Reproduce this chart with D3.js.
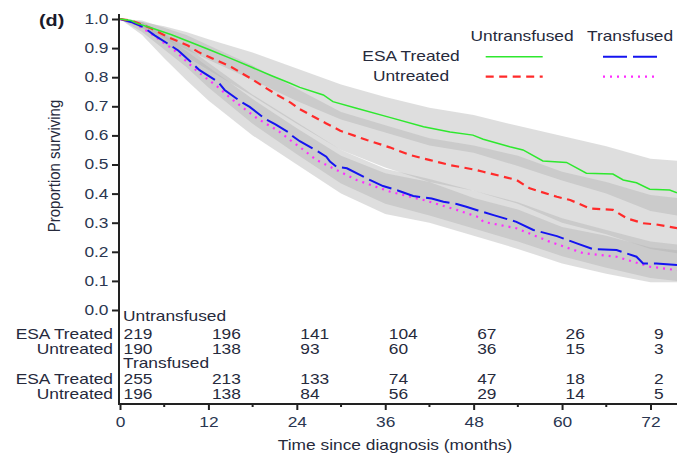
<!DOCTYPE html>
<html>
<head>
<meta charset="utf-8">
<script src="https://cdn.jsdelivr.net/npm/d3@7"></script>
<style>
  html, body { margin: 0; padding: 0; background: #fff; }
  svg { display: block; }
  text { font-family: "Liberation Sans", Arial, sans-serif; }
</style>
</head>
<body>
<svg id="chart" width="677" height="454"></svg>
<script>
// Kaplan-Meier survival estimates, [months, proportion surviving]
const untransfusedEsa = [[0,1],[1.5,0.995],[2.4,0.984],[4.3,0.969],[7,0.946],[10.1,0.915],[12.4,0.892],[15.1,0.864],[17.8,0.835],[20.5,0.806],[23.1,0.779],[24.4,0.765],[27.6,0.739],[28.9,0.716],[32.1,0.693],[36.6,0.662],[41.2,0.630],[44.8,0.612],[47.9,0.601],[49.3,0.587],[52.9,0.561],[54.7,0.550],[57.4,0.512],[60.6,0.507],[63.3,0.470],[66.9,0.467],[68.3,0.447],[70.1,0.437],[71.9,0.415],[74.6,0.412],[75.6,0.403]];
const untransfusedUntreated = [[0,1],[1.5,0.995],[2.5,0.985],[4.2,0.968],[6.5,0.938],[9.2,0.909],[10.6,0.887],[12.4,0.866],[15.1,0.835],[17.8,0.795],[19.6,0.766],[21.4,0.738],[23.2,0.712],[24.4,0.690],[28,0.641],[29.9,0.616],[33.5,0.584],[36.6,0.559],[39.3,0.533],[42.1,0.515],[44.8,0.498],[48.4,0.481],[49.3,0.475],[53.8,0.447],[55.6,0.418],[59.3,0.389],[61.1,0.378],[63.8,0.349],[66.9,0.344],[68.8,0.315],[71,0.298],[72.8,0.294],[75.6,0.281]];
const transfusedEsa = [[0,1],[1.5,0.99],[3.1,0.973],[4.7,0.944],[6.5,0.915],[7.9,0.892],[10.1,0.841],[10.8,0.824],[13.3,0.784],[14.2,0.756],[16.4,0.716],[17.6,0.698],[19.7,0.657],[21.1,0.638],[22.8,0.612],[23.5,0.596],[24.4,0.580],[26.9,0.544],[28,0.527],[28.5,0.510],[29.4,0.492],[30.8,0.487],[33.9,0.447],[35.7,0.426],[37.8,0.410],[39.8,0.392],[42.3,0.383],[43.9,0.372],[45.7,0.364],[47,0.355],[48.6,0.342],[50.7,0.326],[53.8,0.303],[56.1,0.275],[59.3,0.254],[62,0.229],[64.2,0.209],[67.4,0.206],[70.1,0.183],[71,0.160],[72.8,0.160],[75.6,0.155]];
const transfusedUntreated = [[0,1],[2,0.985],[4.2,0.95],[7.4,0.892],[10.6,0.818],[13.3,0.766],[15.1,0.726],[18.7,0.657],[21.4,0.617],[23.1,0.584],[24.4,0.560],[26.7,0.515],[32.1,0.447],[36.6,0.407],[41.2,0.378],[45.7,0.344],[48.8,0.318],[49.3,0.303],[53.8,0.281],[58.3,0.235],[62.9,0.195],[67.4,0.183],[71.9,0.149],[75.6,0.137]];

// Pointwise confidence limits, sampled on a common month grid
const bandMonths = [0, 3, 6, 9, 12, 18, 24, 30, 36, 42, 48, 54, 60, 66, 72, 75.6];
const untransfusedEsaHi = [1, 0.99, 0.975, 0.955, 0.93, 0.885, 0.83, 0.775, 0.732, 0.695, 0.67, 0.633, 0.598, 0.563, 0.52, 0.513];
const untransfusedEsaLo = [1, 0.968, 0.935, 0.895, 0.86, 0.79, 0.718, 0.655, 0.61, 0.565, 0.54, 0.495, 0.445, 0.4, 0.34, 0.325];
const untransfusedUntreatedHi = [1, 0.995, 0.97, 0.945, 0.91, 0.84, 0.76, 0.68, 0.635, 0.59, 0.565, 0.53, 0.475, 0.44, 0.395, 0.385];
const untransfusedUntreatedLo = [1, 0.97, 0.915, 0.87, 0.825, 0.735, 0.64, 0.55, 0.49, 0.44, 0.41, 0.365, 0.30, 0.26, 0.21, 0.195];
const transfusedEsaHi = [1, 0.99, 0.95, 0.905, 0.85, 0.74, 0.645, 0.55, 0.485, 0.45, 0.41, 0.37, 0.315, 0.275, 0.235, 0.225];
const transfusedEsaLo = [1, 0.955, 0.895, 0.835, 0.765, 0.64, 0.535, 0.435, 0.365, 0.325, 0.28, 0.235, 0.185, 0.145, 0.11, 0.10];
const transfusedUntreatedHi = [1, 0.99, 0.945, 0.89, 0.835, 0.725, 0.625, 0.53, 0.47, 0.44, 0.385, 0.345, 0.285, 0.255, 0.215, 0.205];
const transfusedUntreatedLo = [1, 0.945, 0.865, 0.79, 0.72, 0.60, 0.50, 0.40, 0.33, 0.30, 0.255, 0.21, 0.16, 0.125, 0.095, 0.095];

// Numbers at risk
const riskMonths = [0, 12, 24, 36, 48, 60, 72];
const riskUntransfusedEsa = [219, 196, 141, 104, 67, 26, 9];
const riskUntransfusedUntreated = [190, 138, 93, 60, 36, 15, 3];
const riskTransfusedEsa = [255, 213, 133, 74, 47, 18, 2];
const riskTransfusedUntreated = [196, 138, 84, 56, 29, 14, 5];

// Axis ticks
const xMajorTicks = [0, 12, 24, 36, 48, 60, 72];
const xMinorTicks = [6, 18, 30, 42, 54, 66];
const yTicks = [0, 0.1, 0.2, 0.3, 0.4, 0.5, 0.6, 0.7, 0.8, 0.9, 1.0];

const SX = 1.24;            // horizontal stretch of the lettering
const INK = "#262a3c";
const TICK_INK = "#2a3650";

const svg = d3.select("#chart");
const x = d3.scaleLinear().domain([0, 75.6]).range([120, 677]);
const y = d3.scaleLinear().domain([0, 1]).range([310, 19]);

function label(g, px, py, str, anchor, size, color, weight) {
  return g.append("text")
    .attr("transform", `translate(${px},${py}) scale(${SX},1)`)
    .attr("text-anchor", anchor || "start")
    .attr("font-size", size || 14)
    .attr("font-weight", weight || "normal")
    .attr("fill", color || INK)
    .text(str);
}

// Confidence bands (translucent grey, darker where they overlap)
const bands = [
  [untransfusedEsaLo, untransfusedEsaHi],
  [untransfusedUntreatedLo, untransfusedUntreatedHi],
  [transfusedEsaLo, transfusedEsaHi],
  [transfusedUntreatedLo, transfusedUntreatedHi]
];
const bandArea = d3.area()
  .x(d => x(d.t)).y0(d => y(d.lo)).y1(d => y(d.hi))
  .curve(d3.curveLinear);
const bandLayer = svg.append("g");
bands.forEach(([lo, hi]) => {
  const rows = bandMonths.map((t, i) => ({ t, lo: lo[i], hi: hi[i] }));
  bandLayer.append("path")
    .attr("d", bandArea(rows))
    .attr("fill", "#b0b0b0")
    .attr("fill-opacity", 0.42);
});

// Survival curves
const series = [
  { data: transfusedUntreated, color: "#ff2cff", dash: "2,5", width: 2.2 },
  { data: transfusedEsa, color: "#1414f0", dash: "24,6", width: 2 },
  { data: untransfusedUntreated, color: "#ff2a2a", dash: "8,5.5", width: 2.2 },
  { data: untransfusedEsa, color: "#2ee82e", dash: null, width: 1.5 }
];
const line = d3.line().x(d => x(d[0])).y(d => y(d[1])).curve(d3.curveLinear);
const curveLayer = svg.append("g");
series.forEach(s => {
  curveLayer.append("path")
    .attr("d", line(s.data))
    .attr("fill", "none")
    .attr("stroke", s.color)
    .attr("stroke-width", s.width)
    .attr("stroke-dasharray", s.dash);
});

// Y axis
const yAxis = svg.append("g")
  .attr("transform", "translate(119,0)")
  .call(d3.axisLeft(y).tickValues(yTicks).tickFormat(d3.format(".1f")).tickSize(7).tickPadding(3.5));
yAxis.select(".domain").remove();
yAxis.selectAll(".tick line").attr("stroke", "#222").attr("stroke-width", 2);
yAxis.selectAll(".tick text")
  .attr("font-size", 14).attr("fill", TICK_INK)
  .attr("font-family", "Liberation Sans, Arial, sans-serif")
  .each(function () {
    const t = d3.select(this);
    const px = +t.attr("x") || 0;
    t.attr("x", 0).attr("transform", `translate(${px},0) scale(${SX},1)`);
  });
svg.append("line")
  .attr("x1", 119).attr("x2", 119).attr("y1", 14).attr("y2", 405)
  .attr("stroke", "#222").attr("stroke-width", 2);

// X axis
const xAxis = svg.append("g")
  .attr("transform", "translate(0,404)")
  .call(d3.axisBottom(x).tickValues(xMajorTicks).tickFormat(d3.format("d")).tickSize(6).tickPadding(8));
xAxis.select(".domain").remove();
xAxis.selectAll(".tick line").attr("stroke", "#222").attr("stroke-width", 2);
xAxis.selectAll(".tick text")
  .attr("font-size", 14).attr("fill", TICK_INK)
  .attr("font-family", "Liberation Sans, Arial, sans-serif")
  .attr("dy", null).attr("y", 0)
  .each(function () {
    d3.select(this).attr("transform", `translate(0,23.3) scale(${SX},1)`);
  });
xAxis.selectAll(".minor")
  .data(xMinorTicks).enter().append("line")
  .attr("x1", d => x(d)).attr("x2", d => x(d))
  .attr("y1", 0).attr("y2", 3)
  .attr("stroke", "#222").attr("stroke-width", 2);
svg.append("line")
  .attr("x1", 118).attr("x2", 677).attr("y1", 404).attr("y2", 404)
  .attr("stroke", "#222").attr("stroke-width", 2);

// Axis titles and panel letter
label(svg, 395, 449.5, "Time since diagnosis (months)", "middle", 14);
svg.append("text")
  .attr("transform", "translate(59.5,166) rotate(-90) scale(1,1.15)")
  .attr("text-anchor", "middle")
  .attr("font-size", 15)
  .attr("fill", INK)
  .text("Proportion surviving");
label(svg, 39, 26, "(d)", "start", 16, "#1a1a2a", "bold");

// Legend
const legend = svg.append("g");
label(legend, 470.5, 40.7, "Untransfused", "start", 14);
label(legend, 587, 40.7, "Transfused", "start", 14);
label(legend, 411, 60.7, "ESA Treated", "middle", 14);
label(legend, 411, 80.7, "Untreated", "middle", 14);
const legendKeys = [
  { s: series[3], x1: 485.7, x2: 542.7, yy: 56.7 },
  { s: series[2], x1: 485.7, x2: 542.7, yy: 76.7 },
  { s: series[1], x1: 603, x2: 659, yy: 56.7 },
  { s: series[0], x1: 603, x2: 659, yy: 76.7 }
];
legendKeys.forEach(k => {
  legend.append("line")
    .attr("x1", k.x1).attr("x2", k.x2).attr("y1", k.yy).attr("y2", k.yy)
    .attr("stroke", k.s.color).attr("stroke-width", k.s.width)
    .attr("stroke-dasharray", k.s.dash);
});

// Numbers-at-risk table
const table = svg.append("g");
const rows = [
  { head: "Untransfused", base: 320.6 },
  { name: "ESA Treated", values: riskUntransfusedEsa, base: 339.3 },
  { name: "Untreated", values: riskUntransfusedUntreated, base: 354 },
  { head: "Transfused", base: 368.4 },
  { name: "ESA Treated", values: riskTransfusedEsa, base: 384.3 },
  { name: "Untreated", values: riskTransfusedUntreated, base: 399.2 }
];
rows.forEach(r => {
  if (r.head) {
    label(table, 123, r.base, r.head, "start", 14);
  } else {
    label(table, 113, r.base, r.name, "end", 14);
    r.values.forEach((v, i) => label(table, x(riskMonths[i]) + 3.5, r.base, String(v), "start", 14));
  }
});
</script>
</body>
</html>
